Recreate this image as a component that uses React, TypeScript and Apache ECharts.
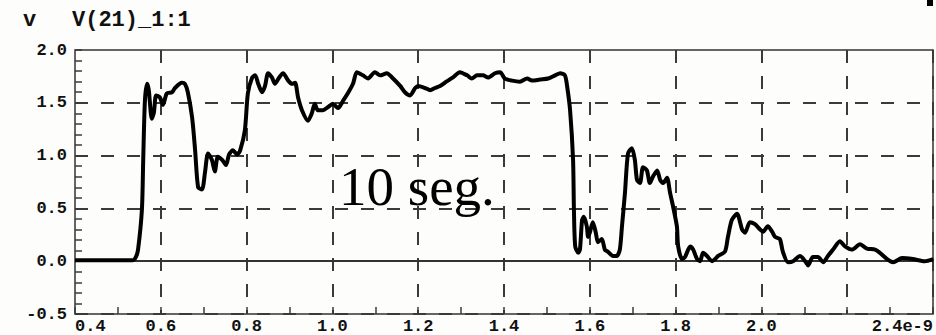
import React, { useEffect, useRef } from "react";
import * as echarts from "echarts";

const timeNs = [
  0.400,0.535,0.542,0.547,0.556,0.559,0.563,0.568,0.572,0.579,
  0.584,0.589,0.598,0.605,0.614,0.626,0.633,0.649,0.656,0.663,
  0.673,0.680,0.687,0.696,0.703,0.710,0.719,0.726,0.733,0.743,
  0.752,0.759,0.768,0.778,0.785,0.796,0.803,0.813,0.820,0.827,
  0.836,0.843,0.850,0.859,0.866,0.876,0.885,0.897,0.906,0.913,
  0.920,0.929,0.943,0.952,0.959,0.966,0.978,0.990,1.001,1.013,
  1.025,1.036,1.048,1.057,1.071,1.083,1.099,1.111,1.127,1.139,
  1.158,1.169,1.181,1.193,1.200,1.216,1.228,1.239,1.251,1.262,
  1.281,1.297,1.314,1.325,1.337,1.351,1.363,1.379,1.391,1.402,
  1.419,1.437,1.454,1.465,1.484,1.503,1.519,1.531,1.542,1.547,
  1.554,1.561,1.563,1.566,1.573,1.577,1.582,1.586,1.593,1.596,
  1.600,1.607,1.614,1.619,1.628,1.635,1.642,1.654,1.663,1.670,
  1.675,1.682,1.689,1.698,1.705,1.710,1.717,1.724,1.733,1.740,
  1.747,1.757,1.764,1.771,1.780,1.787,1.794,1.803,1.806,1.815,
  1.822,1.834,1.841,1.850,1.857,1.864,1.873,1.885,1.892,1.899,
  1.915,1.922,1.931,1.943,1.955,1.962,1.973,1.985,1.997,2.004,
  2.015,2.025,2.032,2.043,2.050,2.062,2.074,2.090,2.102,2.109,
  2.120,2.132,2.144,2.155,2.167,2.183,2.195,2.211,2.230,2.246,
  2.265,2.276,2.293,2.307,2.328,2.353,2.381,2.400,
];

const voltage = [
  0.01,0.01,0.04,0.11,0.49,0.96,1.52,1.68,1.62,1.35,
  1.41,1.57,1.55,1.48,1.59,1.60,1.64,1.69,1.68,1.60,
  1.36,1.05,0.70,0.68,0.84,1.02,0.96,0.85,0.99,0.96,
  0.91,1.01,1.05,1.01,1.05,1.24,1.59,1.74,1.76,1.68,
  1.60,1.66,1.78,1.74,1.68,1.74,1.78,1.71,1.68,1.69,
  1.55,1.43,1.33,1.40,1.49,1.43,1.43,1.46,1.49,1.45,
  1.52,1.59,1.68,1.79,1.76,1.73,1.79,1.76,1.78,1.74,
  1.66,1.60,1.57,1.64,1.66,1.64,1.62,1.64,1.66,1.69,
  1.74,1.79,1.76,1.73,1.76,1.76,1.74,1.78,1.79,1.73,
  1.71,1.70,1.73,1.71,1.72,1.73,1.76,1.78,1.76,1.66,
  1.43,0.96,0.49,0.14,0.08,0.11,0.39,0.42,0.33,0.23,
  0.27,0.37,0.27,0.18,0.21,0.11,0.09,0.05,0.05,0.11,
  0.33,0.65,1.02,1.07,0.96,0.77,0.74,0.89,0.86,0.74,
  0.80,0.86,0.77,0.74,0.79,0.65,0.52,0.33,0.14,0.02,
  0.04,0.14,0.11,0.02,0.00,0.08,0.05,0.00,0.02,0.05,
  0.09,0.23,0.39,0.45,0.30,0.27,0.37,0.35,0.30,0.28,
  0.33,0.28,0.23,0.21,0.09,-0.01,0.00,0.05,0.00,-0.04,
  0.04,0.04,-0.01,0.05,0.11,0.19,0.14,0.11,0.16,0.12,
  0.11,0.08,0.02,-0.01,0.03,0.02,0.00,0.02,
];

const yAxisUnit = "v";
const traceName = "V(21)_1:1";
const annotation = "10 seg.";
const xMin = 0.4;
const xMax = 2.4;
const xStep = 0.2;
const yMin = -0.5;
const yMax = 2.0;
const yStep = 0.5;

const MONO = '"Liberation Mono", "DejaVu Sans Mono", monospace';
const GRID_COLOR = "#3a3a3a";

export default function App() {
  const ref = useRef<HTMLDivElement>(null);

  useEffect(() => {
    if (!ref.current) return;
    const chart = echarts.init(ref.current, undefined, { renderer: "svg" });
    const n = Math.min(timeNs.length, voltage.length);
    const data: [number, number][] = [];
    for (let i = 0; i < n; i++) data.push([timeNs[i], voltage[i]]);

    chart.setOption({
      animation: false,
      backgroundColor: "#fdfdfb",
      grid: {
        left: 75,
        right: 3,
        top: 50,
        bottom: 19,
        show: true,
        borderColor: "#333",
        borderWidth: 1.5,
        backgroundColor: "transparent",
      },
      xAxis: {
        type: "value",
        min: xMin,
        max: xMax,
        interval: xStep,
        axisLine: { show: false, onZero: false },
        axisTick: { show: true, inside: true, length: 7, lineStyle: { color: GRID_COLOR, width: 1.5 } },
        minorTick: { show: true, splitNumber: 2, length: 7, lineStyle: { color: GRID_COLOR, width: 1.5 } },
        splitLine: {
          show: true,
          showMinLine: false,
          lineStyle: { color: GRID_COLOR, width: 2, type: [13, 13] },
        },
        axisLabel: {
          margin: 4,
          color: "#111",
          fontFamily: MONO,
          fontWeight: "bold",
          fontSize: 17,
          alignMinLabel: "left",
          alignMaxLabel: "right",
          formatter: (v: number) => {
            if (Math.abs(v - 2.2) < 1e-6) return "";
            if (Math.abs(v - xMax) < 1e-6) return "2.4e-9";
            return v.toFixed(1);
          },
        },
      },
      yAxis: {
        type: "value",
        min: yMin,
        max: yMax,
        interval: yStep,
        axisLine: { show: false },
        axisTick: { show: true, inside: true, length: 7, lineStyle: { color: GRID_COLOR, width: 1.5 } },
        minorTick: { show: true, splitNumber: 5, length: 7, lineStyle: { color: GRID_COLOR, width: 1.5 } },
        splitLine: {
          show: true,
          showMaxLine: false,
          lineStyle: { color: GRID_COLOR, width: 2, type: [13, 13] },
        },
        axisLabel: {
          margin: 8,
          color: "#111",
          fontFamily: MONO,
          fontWeight: "bold",
          fontSize: 17,
          verticalAlign: "middle",
          padding: [0, 0, 10, 0],
          formatter: (v: number) => v.toFixed(1),
        },
      },
      series: [
        {
          type: "line",
          data,
          showSymbol: false,
          smooth: 0.25,
          lineStyle: { color: "#000", width: 4 },
          z: 5,
          markLine: {
            silent: true,
            symbol: "none",
            label: { show: false },
            lineStyle: { color: "#333", width: 2, type: "solid" },
            data: [{ yAxis: 0 }],
            z: 3,
          },
        },
      ],
      graphic: [
        {
          type: "text",
          x: 23,
          y: 31,
          style: {
            text: yAxisUnit,
            font: `bold 22px ${MONO}`,
            fill: "#111",
            textVerticalAlign: "bottom",
          },
        },
        {
          type: "text",
          x: 72,
          y: 31,
          style: {
            text: traceName,
            font: `bold 22px ${MONO}`,
            fill: "#111",
            textVerticalAlign: "bottom",
          },
        },
        {
          type: "text",
          x: 339,
          y: 186,
          z: 10,
          style: {
            text: annotation,
            font: '55px "Liberation Serif", "Times New Roman", serif',
            fill: "#000",
            textVerticalAlign: "middle",
          },
        },
        {
          type: "rect",
          shape: { x: 927, y: 0, width: 6, height: 6 },
          style: { fill: "#000" },
        },
      ],
    });

    return () => chart.dispose();
  }, []);

  return (
    <div
      ref={ref}
      style={{ position: "absolute", left: 0, top: 0, width: 936, height: 335 }}
    />
  );
}
